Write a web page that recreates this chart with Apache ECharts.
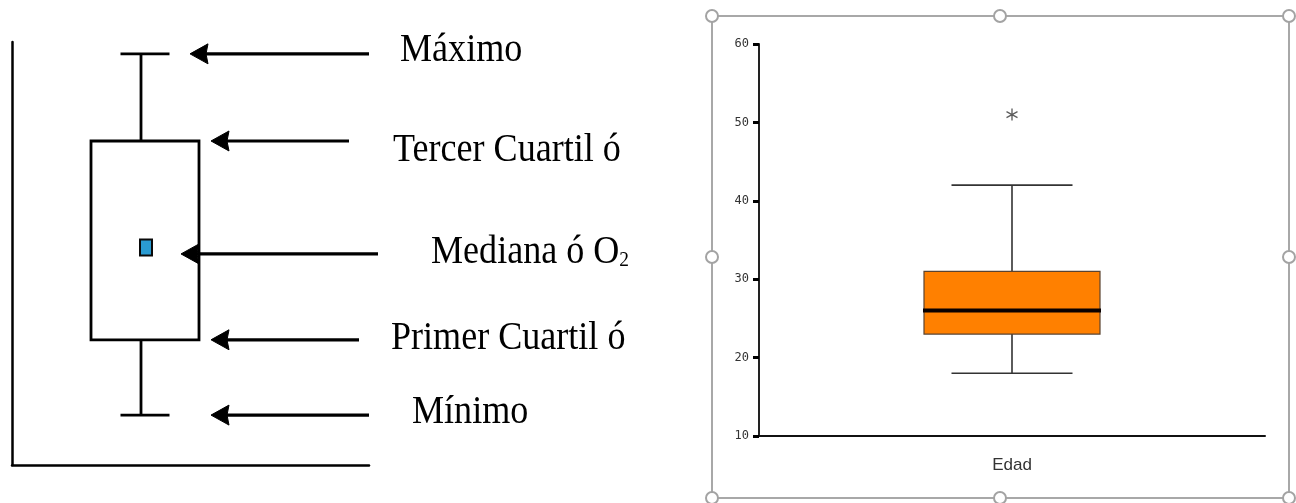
<!DOCTYPE html>
<html>
<head>
<meta charset="utf-8">
<style>
  html, body { margin: 0; padding: 0; background: #ffffff; }
  #chart { width: 1296px; height: 503px; }
</style>
<script src="https://cdn.jsdelivr.net/npm/echarts@6/dist/echarts.min.js"></script>
</head>
<body>
<div id="chart"></div>
<script>
// ---------- Left: schematic box plot (schematic units) ----------
const schemStats = [11.8, 29.6, 51.4, 76.6, 97.2];   // min, Q1, median, Q3, max
const schemCenter = 133;
const partLabels = ['Máximo', 'Tercer Cuartil ó', 'Mediana ó O', 'Primer Cuartil ó', 'Mínimo'];
const arrowLevels = [97.2, 76.6, 49.9, 29.6, 11.8];
const arrowTips = [178, 199, 169, 199, 199];
const arrowEnds = [357, 337, 366, 347, 357];

// ---------- Right: real box plot ----------
const categories = ['Edad'];
const edadStats = [18, 23, 26, 31, 42];              // min, Q1, median, Q3, max
const edadOutliers = [51];

const chart = echarts.init(document.getElementById('chart'), null, { renderer: 'canvas' });

const serif = "'Liberation Serif', 'Times New Roman', serif";

function schematicItem(params, api) {
  const c = schemCenter;
  const pMax = api.coord([c, schemStats[4]]);
  const pQ3 = api.coord([c, schemStats[3]]);
  const pMed = api.coord([c, schemStats[2]]);
  const pQ1 = api.coord([c, schemStats[1]]);
  const pMin = api.coord([c, schemStats[0]]);
  const x = pMax[0];
  const wx = x - 4;
  const half = 54, cap = 24.5;
  const lw = { stroke: '#000', lineWidth: 2.8 };
  return {
    type: 'group',
    children: [
      { type: 'line', shape: { x1: x - cap, y1: pMax[1], x2: x + cap, y2: pMax[1] }, style: lw },
      { type: 'line', shape: { x1: wx, y1: pMax[1], x2: wx, y2: pQ3[1] }, style: lw },
      { type: 'rect', shape: { x: x - half, y: pQ3[1], width: 2 * half, height: pQ1[1] - pQ3[1] }, style: { fill: 'none', stroke: '#000', lineWidth: 2.8 } },
      { type: 'line', shape: { x1: wx, y1: pQ1[1], x2: wx, y2: pMin[1] }, style: lw },
      { type: 'line', shape: { x1: x - cap, y1: pMin[1], x2: x + cap, y2: pMin[1] }, style: lw },
      { type: 'rect', shape: { x: wx - 1, y: pMed[1] - 8, width: 12, height: 16 }, style: { fill: '#2a9bd2', stroke: '#0a0a0a', lineWidth: 2 } }
    ]
  };
}

function arrowItem(params, api) {
  const p1 = api.coord([api.value(0), api.value(2)]);
  const p2 = api.coord([api.value(1), api.value(2)]);
  const y = p1[1];
  return {
    type: 'group',
    children: [
      { type: 'line', shape: { x1: p1[0] + 14, y1: y, x2: p2[0], y2: y }, style: { stroke: '#000', lineWidth: 3.2 } },
      { type: 'polygon', shape: { points: [[p1[0], y], [p1[0] + 18, y - 10], [p1[0] + 16, y], [p1[0] + 18, y + 10]] }, style: { fill: '#000', stroke: '#000', lineWidth: 1 } }
    ]
  };
}

function edadItem(params, api) {
  const cat = api.value(0);
  const pMin = api.coord([cat, api.value(1)]);
  const pQ1 = api.coord([cat, api.value(2)]);
  const pMed = api.coord([cat, api.value(3)]);
  const pQ3 = api.coord([cat, api.value(4)]);
  const pMax = api.coord([cat, api.value(5)]);
  const x = pMed[0];
  const half = 88, cap = 60.5;
  const ws = { stroke: '#333', lineWidth: 1.6 };
  return {
    type: 'group',
    children: [
      { type: 'line', shape: { x1: x, y1: pMax[1], x2: x, y2: pQ3[1] }, style: ws },
      { type: 'line', shape: { x1: x - cap, y1: pMax[1], x2: x + cap, y2: pMax[1] }, style: ws },
      { type: 'line', shape: { x1: x, y1: pQ1[1], x2: x, y2: pMin[1] }, style: ws },
      { type: 'line', shape: { x1: x - cap, y1: pMin[1], x2: x + cap, y2: pMin[1] }, style: ws },
      { type: 'rect', shape: { x: x - half, y: pQ3[1], width: 2 * half, height: pQ1[1] - pQ3[1] }, style: { fill: '#ff8000', stroke: '#5a4330', lineWidth: 1.2 } },
      { type: 'line', shape: { x1: x - half - 1, y1: pMed[1], x2: x + half + 1, y2: pMed[1] }, style: { stroke: '#0a0000', lineWidth: 4 } }
    ]
  };
}

const handleXs = [712, 1000, 1289];
const handleYs = [16, 257, 498];
const handles = [];
handleXs.forEach(function (hx, ix) {
  handleYs.forEach(function (hy, iy) {
    if (ix === 1 && iy === 1) return;
    handles.push({ type: 'circle', shape: { cx: hx, cy: hy, r: 6 }, style: { fill: '#fff', stroke: '#a3a3a3', lineWidth: 2 }, z: 10 });
  });
});

const labelLefts = [400, 393, 431, 391, 412];
const labelMids = [51, 151, 253, 339, 413];
const labelGraphics = partLabels.map(function (t, i) {
  const isMed = i === 2;
  return {
    type: 'text',
    x: labelLefts[i],
    y: labelMids[i],
    scaleX: 0.925,
    scaleY: 1,
    style: {
      text: isMed ? '{m|' + t + '}{s|2}' : t,
      x: 0, y: 0,
      font: '39px ' + serif,
      fill: '#000',
      verticalAlign: 'middle',
      align: 'left',
      rich: isMed ? {
        m: { fontFamily: serif, fontSize: 39, color: '#000', lineHeight: 39 },
        s: { fontFamily: serif, fontSize: 21, color: '#000', lineHeight: 39, padding: [14, 0, 0, 0] }
      } : undefined
    },
    z: 5
  };
});

const option = {
  animation: false,
  backgroundColor: '#ffffff',
  grid: [
    { left: 12, top: 42, width: 357, height: 423 },
    { left: 759, top: 44, width: 506, height: 392 }
  ],
  xAxis: [
    {
      type: 'value', gridIndex: 0, min: 0, max: 357,
      axisLine: { show: true, onZero: false, lineStyle: { color: '#000', width: 2.5 } },
      axisTick: { show: false }, axisLabel: { show: false }, splitLine: { show: false }
    },
    {
      type: 'category', gridIndex: 1, data: categories,
      axisLine: { show: true, lineStyle: { color: '#111', width: 2 } },
      axisTick: { show: false },
      axisLabel: { fontFamily: "'Liberation Sans', sans-serif", fontSize: 17, color: '#333', margin: 21 }
    }
  ],
  yAxis: [
    {
      type: 'value', gridIndex: 0, min: 0, max: 100,
      axisLine: { show: true, onZero: false, lineStyle: { color: '#000', width: 2.5 } },
      axisTick: { show: false }, axisLabel: { show: false }, splitLine: { show: false }
    },
    {
      type: 'value', gridIndex: 1, min: 10, max: 60, interval: 10,
      axisLine: { show: true, onZero: false, lineStyle: { color: '#222', width: 2 } },
      axisTick: { show: true, length: 6, lineStyle: { color: '#000', width: 3 } },
      axisLabel: { fontFamily: "'DejaVu Sans Mono', monospace", fontSize: 12, color: '#333', margin: 10 },
      splitLine: { show: false }
    }
  ],
  graphic: [
    { type: 'rect', shape: { x: 712, y: 16, width: 577, height: 482 }, style: { fill: 'none', stroke: '#a8a8a8', lineWidth: 2 }, z: 9 }
  ].concat(handles).concat(labelGraphics),
  series: [
    {
      type: 'custom', name: 'esquema', xAxisIndex: 0, yAxisIndex: 0,
      renderItem: schematicItem,
      data: [[schemCenter].concat(schemStats)],
      clip: false, silent: true
    },
    {
      type: 'custom', name: 'flechas', xAxisIndex: 0, yAxisIndex: 0,
      renderItem: arrowItem,
      data: arrowLevels.map(function (lv, i) { return [arrowTips[i], arrowEnds[i], lv]; }),
      clip: false, silent: true
    },
    {
      type: 'custom', name: 'Edad', xAxisIndex: 1, yAxisIndex: 1,
      renderItem: edadItem,
      data: categories.map(function (c, i) { return [i].concat(edadStats); }),
      clip: false, silent: true
    },
    {
      type: 'scatter', name: 'atípicos', xAxisIndex: 1, yAxisIndex: 1,
      data: edadOutliers.map(function (v) { return [0, v]; }),
      symbol: 'path://M5 0 L5 10 M0.67 2.5 L9.33 7.5 M0.67 7.5 L9.33 2.5',
      symbolSize: [11, 12],
      itemStyle: { color: 'rgba(0,0,0,0)', borderColor: '#333', borderWidth: 1.4 },
      silent: true
    }
  ]
};

chart.setOption(option);
</script>
</body>
</html>
